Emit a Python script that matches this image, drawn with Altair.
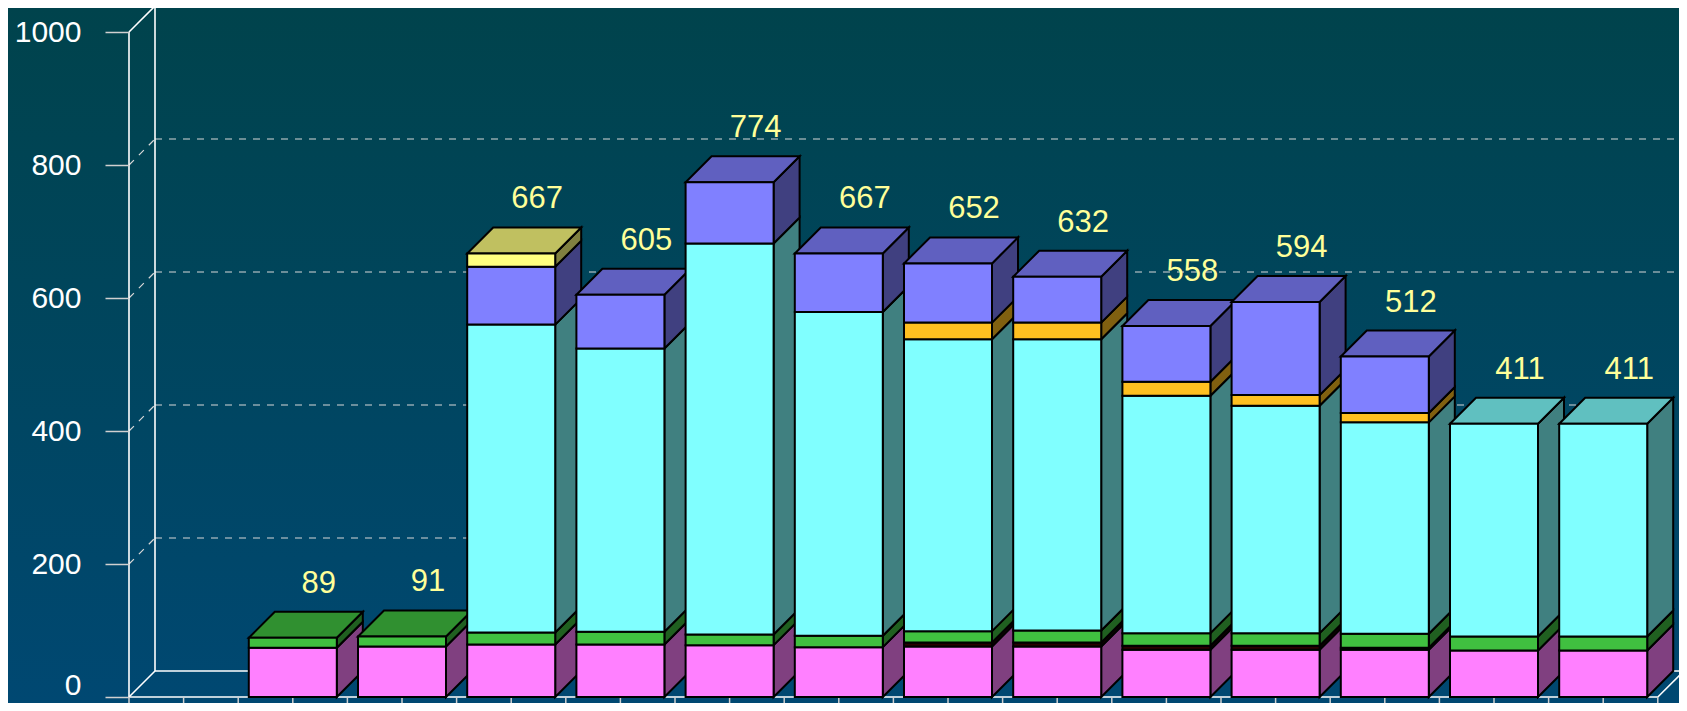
import altair as alt
import pandas as pd

# ---------------- data ----------------
slots = list(range(14))  # slot 0 is empty
pink   = [0, 74, 76, 79, 79, 78, 75, 76, 76, 71, 71, 71, 70, 70]
dark   = [0, 0, 0, 0, 0, 0, 0, 6, 6, 6, 6, 3, 0, 0]
green  = [0, 15, 15, 18, 19, 16, 17, 17, 18, 19, 19, 21, 21, 21]
cyan   = [0, 0, 0, 463, 426, 588, 487, 439, 438, 357, 342, 318, 320, 320]
orange = [0, 0, 0, 0, 0, 0, 0, 25, 25, 21, 16, 14, 0, 0]
blue   = [0, 0, 0, 87, 81, 92, 88, 89, 69, 84, 140, 85, 0, 0]
yellow = [0, 0, 0, 20, 0, 0, 0, 0, 0, 0, 0, 0, 0, 0]
y_ticks = [0, 200, 400, 600, 800, 1000]
grid_vals = [200, 400, 600, 800]

series = [("pink", pink), ("dark", dark), ("green", green), ("cyan", cyan),
          ("orange", orange), ("blue", blue), ("yellow", yellow)]

# ---------------- styles ----------------
front_col = {"pink": "#FF80FF", "dark": "#2A0000", "green": "#40C040", "cyan": "#80FFFF",
             "orange": "#FFC020", "blue": "#8080FF", "yellow": "#FFFF80"}
side_col = {"pink": "#804080", "dark": "#150000", "green": "#206020", "cyan": "#408080",
            "orange": "#806010", "blue": "#404080", "yellow": "#808040"}
top_col = {"pink": "#C060C0", "dark": "#200000", "green": "#309030", "cyan": "#60C0C0",
           "orange": "#C09018", "blue": "#6060C0", "yellow": "#C0C060"}

SLOT_PX = 109.2
VAL_PX = 0.665
DEPTH_PX = 26
PLOT_W, PLOT_H = 1550, 695
DX = DEPTH_PX / SLOT_PX
DY = DEPTH_PX / VAL_PX
HW = 44 / SLOT_PX
XMAX = PLOT_W / SLOT_PX
YMIN = -6 / VAL_PX
YMAX = YMIN + PLOT_H / VAL_PX
NS = len(slots)

XS = alt.Scale(domain=[0, XMAX], nice=False, zero=False)
YS = alt.Scale(domain=[YMIN, YMAX], nice=False, zero=False)
YAX = alt.Axis(
    values=y_ticks, format="d", title=None, domain=False, grid=False,
    tickSize=24, tickColor="#D0D0D0", tickWidth=1.5,
    labelPadding=24, labelFontSize=30, labelColor="#FFFFFF",
    labelFont="Liberation Sans", zindex=1,
    labelOffset={"condition": {"test": "datum.value === 0", "value": -12}, "value": 0})

# ---------------- build geometry tables from the data ----------------
fronts, sides, tops, totals = [], [], [], []
for i in slots:
    cum = 0
    xl, xr = i + 0.5 - HW, i + 0.5 + HW
    last = None
    for name, vals in series:
        v = vals[i]
        if v <= 0:
            continue
        y0, y1 = cum, cum + v
        cum = y1
        fronts.append(dict(x=xl, x2=xr, y=y0, y2=y1, fill=front_col[name]))
        face = f"{i}-{name}"
        sides.append(dict(face=face, x=xr, y=y0, y2=y1, fill=side_col[name]))
        sides.append(dict(face=face, x=xr + DX, y=y0 + DY, y2=y1 + DY, fill=side_col[name]))
        last = name
    if last is not None:
        face = f"{i}-top"
        tops.append(dict(face=face, y=cum, x=xl, x2=xr, fill=top_col[last]))
        tops.append(dict(face=face, y=cum + DY, x=xl + DX, x2=xr + DX, fill=top_col[last]))
        totals.append(dict(x=i + 0.5, y=cum, label=str(cum)))

df_front = pd.DataFrame(fronts)
df_side = pd.DataFrame(sides)
df_top = pd.DataFrame(tops)
df_tot = pd.DataFrame(totals)

# frame lines
solid = [
    dict(x=0, y=0, x2=NS, y2=0),                        # floor front
    dict(x=0, y=0, x2=DX, y2=DY),                       # floor left diagonal
    dict(x=NS, y=0, x2=NS + DX, y2=DY),                 # floor right diagonal
    dict(x=DX, y=DY, x2=NS + DX, y2=DY),                # floor back
    dict(x=DX, y=DY, x2=DX, y2=1000 + DY),              # back wall left
    dict(x=NS + DX, y=DY, x2=NS + DX, y2=1000 + DY),    # back wall right
    dict(x=0, y=1000, x2=DX, y2=1000 + DY),             # top diagonal
    dict(x=DX, y=1000 + DY, x2=NS + DX, y2=1000 + DY),  # top back
    dict(x=0, y=0, x2=0, y2=1000),                      # front axis
]
df_solid = pd.DataFrame(solid)
dashed = []
for g in grid_vals:
    dashed.append(dict(x=0, y=g, x2=DX, y2=g + DY))
    dashed.append(dict(x=DX, y=g + DY, x2=NS + DX, y2=g + DY))
df_dash = pd.DataFrame(dashed)
df_xt = pd.DataFrame(dict(x=[k * 0.5 for k in range(2 * NS + 1)]))
df_xt["y"] = 0
df_xt["y2"] = YMIN

# ---------------- layers ----------------
bg = alt.Chart(pd.DataFrame({"a": [0]})).mark_rect(
    color=alt.LinearGradient(
        gradient="linear",
        stops=[alt.GradientStop(color="#00434C", offset=0),
               alt.GradientStop(color="#004872", offset=1)],
        x1=0, x2=0, y1=0, y2=1),
    clip=False,
).encode(x=alt.value(-121), x2=alt.value(PLOT_W), y=alt.value(0), y2=alt.value(PLOT_H))

axis_layer = alt.Chart(pd.DataFrame({"v": y_ticks})).mark_point(opacity=0).encode(
    x=alt.value(0),
    y=alt.Y("v:Q", scale=YS, axis=YAX),
)

dash_layer = alt.Chart(df_dash).mark_rule(color="#D8D8D8", strokeWidth=1.2, strokeDash=[7, 7]).encode(
    x=alt.X("x:Q", scale=XS, axis=None), x2="x2:Q",
    y=alt.Y("y:Q", scale=YS, axis=YAX), y2="y2:Q")

solid_layer = alt.Chart(df_solid).mark_rule(color="#FFFFFF", strokeWidth=1.6).encode(
    x=alt.X("x:Q", scale=XS, axis=None), x2="x2:Q",
    y=alt.Y("y:Q", scale=YS, axis=YAX), y2="y2:Q")

xtick_layer = alt.Chart(df_xt).mark_rule(color="#D0D0D0", strokeWidth=1.5, clip=False).encode(
    x=alt.X("x:Q", scale=XS, axis=None),
    y=alt.Y("y:Q", scale=YS, axis=YAX), y2="y2:Q")

side_layer = alt.Chart(df_side).mark_area(
    orient="vertical", stroke="black", strokeWidth=2, strokeJoin="miter", clip=False
).encode(
    x=alt.X("x:Q", scale=XS, axis=None),
    y=alt.Y("y:Q", scale=YS, axis=YAX, stack=None), y2="y2:Q",
    fill=alt.Fill("fill:N", scale=None),
    detail="face:N")

top_layer = alt.Chart(df_top).mark_area(
    orient="horizontal", stroke="black", strokeWidth=2, strokeJoin="miter", clip=False
).encode(
    y=alt.Y("y:Q", scale=YS, axis=YAX),
    x=alt.X("x:Q", scale=XS, axis=None, stack=None), x2="x2:Q",
    fill=alt.Fill("fill:N", scale=None),
    detail="face:N")

front_layer = alt.Chart(df_front).mark_rect(stroke="black", strokeWidth=2, clip=False).encode(
    x=alt.X("x:Q", scale=XS, axis=None), x2="x2:Q",
    y=alt.Y("y:Q", scale=YS, axis=YAX), y2="y2:Q",
    fill=alt.Fill("fill:N", scale=None))

text_layer = alt.Chart(df_tot).mark_text(
    color="#FFFF99", fontSize=31, font="Liberation Sans",
    dx=DEPTH_PX, dy=-45, baseline="alphabetic", align="center", clip=False
).encode(
    x=alt.X("x:Q", scale=XS, axis=None),
    y=alt.Y("y:Q", scale=YS, axis=YAX),
    text="label:N")

chart = alt.layer(
    bg, axis_layer, dash_layer, solid_layer, xtick_layer,
    side_layer, top_layer, front_layer, text_layer
).properties(
    width=PLOT_W, height=PLOT_H,
    padding={"left": 121, "top": 0, "right": 0, "bottom": 0},
    autosize="none",
).configure(background="#00455E").configure_view(stroke=None)

chart.save("out.html", embed_options={"renderer": "svg", "actions": False})
